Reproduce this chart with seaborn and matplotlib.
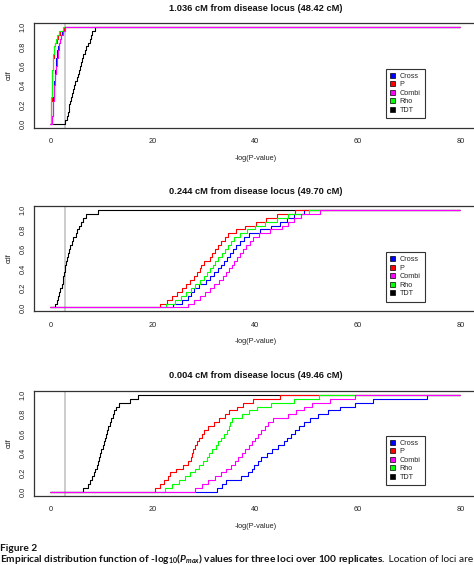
import numpy as np
import pandas as pd
import matplotlib
matplotlib.use("Agg")
import matplotlib.pyplot as plt
import seaborn as sns
from matplotlib.patches import Patch

# ---------------- data ----------------
SERIES = ["Cross", "P", "Combi", "Rho", "TDT"]
DRAW_ORDER = ["TDT", "Cross", "P", "Rho", "Combi"]
COLORS = {"Cross": "#0000FF", "P": "#FF0000", "Combi": "#FF00FF",
          "Rho": "#00FF00", "TDT": "#000000"}
TITLES = ["1.036 cM from disease locus (48.42 cM)",
          "0.244 cM from disease locus (49.70 cM)",
          "0.004 cM from disease locus (49.46 cM)"]
XTICKS = [0, 20, 40, 60, 80]
YTICKS = [0.0, 0.2, 0.4, 0.6, 0.8, 1.0]
THRESHOLD = 2.9
X_START, X_END = 0, 80

# panel 1 : sorted -log(P) values per statistic
p1_cross = [0.3, 0.38, 0.43, 0.48, 0.52, 0.56, 0.6, 0.65, 0.7, 0.74, 0.78, 0.82,
            0.87, 0.92, 1.0, 1.08, 1.17, 1.27, 1.37, 1.5, 1.65, 1.8, 2.0, 2.3, 2.7]
p1_p = [0.05, 0.1, 0.12, 0.15, 0.18, 0.2, 0.22, 0.25, 0.28, 0.3, 0.32, 0.35,
        0.38, 0.41, 0.45, 0.5, 0.55, 0.62, 0.7, 0.8, 0.95, 1.2, 1.5, 1.9, 2.7]
p1_combi = [0.3, 0.4, 0.45, 0.5, 0.55, 0.6, 0.65, 0.7, 0.75, 0.8, 0.85, 0.9,
            0.95, 1.0, 1.1, 1.2, 1.3, 1.4, 1.5, 1.6, 1.75, 1.9, 2.1, 2.4, 2.8]
p1_rho = [0.04, 0.08, 0.1, 0.13, 0.15, 0.18, 0.2, 0.22, 0.25, 0.28, 0.3, 0.33,
          0.36, 0.4, 0.44, 0.48, 0.53, 0.6, 0.68, 0.76, 0.88, 1.05, 1.3, 1.7, 2.5]
p1_tdt = [2.8, 3.2, 3.4, 3.6, 3.7, 3.8, 4.0, 4.2, 4.4, 4.6, 4.8, 5.1, 5.3, 5.5,
          5.7, 5.9, 6.1, 6.4, 6.7, 7.0, 7.4, 7.7, 8.0, 8.2, 8.8]

# panel 2
p2_cross = [24.0, 25.7, 26.8, 27.5, 28.0, 29.0, 30.3, 31.2, 31.9, 32.7, 33.3, 33.9,
            34.5, 35.0, 35.6, 36.3, 37.0, 37.7, 38.8, 41.0, 43.0, 44.8, 46.1, 47.6, 49.5]
p2_p = [21.3, 22.8, 23.8, 24.8, 25.6, 26.4, 27.3, 28.0, 28.6, 29.1, 29.4, 30.0,
        31.1, 31.6, 32.2, 32.8, 33.3, 34.0, 34.7, 36.3, 38.0, 40.2, 42.1, 44.2, 47.8]
p2_combi = [26.8, 28.0, 29.2, 30.2, 31.1, 32.0, 32.9, 33.6, 34.3, 34.9, 35.5, 35.9,
            36.4, 37.0, 37.6, 38.2, 38.9, 39.6, 40.7, 42.8, 45.2, 46.4, 47.6, 49.0, 52.7]
p2_rho = [22.5, 24.3, 25.5, 26.5, 27.4, 28.3, 29.2, 30.0, 30.5, 31.1, 31.7, 32.2,
          32.8, 33.5, 34.1, 34.7, 35.3, 35.8, 37.0, 38.4, 40.0, 41.8, 44.2, 46.3, 50.5]
p2_tdt = [0.9, 1.3, 1.5, 1.7, 1.9, 2.2, 2.4, 2.5, 2.7, 2.8, 2.9, 3.1, 3.3, 3.5,
          3.7, 3.9, 4.2, 4.5, 4.9, 5.2, 5.5, 5.9, 6.3, 7.0, 9.3]

# panel 3
p3_cross = [32.5, 33.4, 34.2, 37.2, 38.5, 39.3, 39.8, 40.5, 41.2, 42.3, 43.3, 44.4,
            45.5, 46.2, 47.0, 47.8, 48.5, 49.5, 50.6, 52.3, 54.2, 56.5, 59.5, 63.0, 73.5]
p3_p = [20.5, 21.3, 22.2, 22.9, 23.4, 24.6, 25.8, 26.8, 27.4, 27.7, 27.9, 28.2,
        28.6, 29.0, 29.6, 30.0, 30.8, 32.0, 33.0, 34.1, 34.8, 36.5, 37.6, 39.6, 44.9]
p3_combi = [28.3, 29.5, 30.8, 32.1, 33.2, 34.3, 35.2, 36.0, 36.7, 37.3, 38.0, 38.7,
            39.3, 39.9, 40.5, 41.2, 41.8, 42.5, 43.5, 46.3, 48.0, 49.5, 51.0, 54.5, 59.5]
p3_rho = [22.3, 23.8, 25.1, 26.2, 27.2, 28.2, 29.0, 29.8, 30.5, 31.0, 31.6, 32.3,
          32.8, 33.3, 33.8, 34.4, 34.9, 35.1, 35.4, 37.3, 38.8, 40.3, 43.0, 47.5, 52.5]
p3_tdt = [6.4, 7.3, 7.8, 8.2, 8.5, 8.7, 9.0, 9.2, 9.5, 9.7, 9.9, 10.2, 10.4, 10.6,
          10.8, 11.1, 11.3, 11.6, 11.9, 12.2, 12.5, 12.8, 13.4, 15.5, 17.0]

PANELS = [
    {"Cross": p1_cross, "P": p1_p, "Combi": p1_combi, "Rho": p1_rho, "TDT": p1_tdt},
    {"Cross": p2_cross, "P": p2_p, "Combi": p2_combi, "Rho": p2_rho, "TDT": p2_tdt},
    {"Cross": p3_cross, "P": p3_p, "Combi": p3_combi, "Rho": p3_rho, "TDT": p3_tdt},
]

CAPTION_HEAD = "Figure 2"
CAPTION_BOLD = r"Empirical distribution function of -log$_{10}$($P_{max}$) values for three loci over 100 replicates."
CAPTION_REST = " Location of loci are in cM."


def ecdf_frame(panel):
    rows = []
    for name in DRAW_ORDER:
        vals = np.sort(np.asarray(panel[name], dtype=float))
        n = len(vals)
        xs = np.concatenate([[X_START], vals, [X_END]])
        ys = np.concatenate([[0.0], np.arange(1, n + 1) / n, [1.0]])
        for i, (xv, yv) in enumerate(zip(xs, ys)):
            rows.append({"x": xv, "cdf": yv, "series": name, "order": i})
    return pd.DataFrame(rows)


# ---------------- figure ----------------
sns.set_theme(style="white")
plt.rcParams["font.family"] = ["Liberation Sans", "DejaVu Sans"]
plt.rcParams["mathtext.fontset"] = "custom"
plt.rcParams["mathtext.rm"] = "Lato:bold"
plt.rcParams["mathtext.it"] = "Lato:italic:bold"

W, H = 474, 565
fig = plt.figure(figsize=(W / 100, H / 100), dpi=100)
fig.patch.set_facecolor("white")

left_px, right_px = 34, 476.7
boxes = [(23.3, 127.7), (206.0, 311.3), (391.0, 495.7)]
legend_bottom = [0.09, 0.091, 0.10]

for k, (top_px, bot_px) in enumerate(boxes):
    ax = fig.add_axes([left_px / W, 1 - bot_px / H,
                       (right_px - left_px) / W, (bot_px - top_px) / H])
    ax.set_facecolor("white")
    df = ecdf_frame(PANELS[k])
    ax.axvline(THRESHOLD, color="#c8c8c8", lw=1.3, zorder=1)
    sns.lineplot(data=df, x="x", y="cdf", hue="series", hue_order=DRAW_ORDER,
                 palette=COLORS, estimator=None, sort=False, units="series",
                 drawstyle="steps-post", lw=0.8, legend=False, ax=ax, zorder=2)
    ax.set_xlim(-3.2, 83.2)
    ax.set_ylim(-0.04, 1.04)
    ax.set_xticks(XTICKS, labels=[str(v) for v in XTICKS])
    ax.set_yticks(YTICKS, labels=[f"{v:.1f}" for v in YTICKS])
    ax.tick_params(axis="both", which="major", direction="out", length=3,
                   width=0.6, color="#333333", labelsize=5.3, labelcolor="#222222")
    ax.tick_params(axis="x", pad=4.5)
    ax.tick_params(axis="y", pad=2.5)
    for lab in ax.get_yticklabels():
        lab.set_rotation(90)
        lab.set_va("center")
    for sp in ax.spines.values():
        sp.set_visible(True)
        sp.set_color("#333333")
        sp.set_linewidth(0.9)
    ax.set_xlabel("-log(P-value)", fontsize=5.3, labelpad=7, color="#222222")
    ax.set_ylabel("cdf", fontsize=5.3, labelpad=4.5, color="#222222")
    ax.set_title(TITLES[k], fontsize=6.7, fontweight="bold", pad=9, color="#111111")

    handles = [Patch(facecolor=COLORS[s], edgecolor="black", lw=0.5, label=s)
               for s in SERIES]
    leg = ax.legend(handles=handles, loc="lower right",
                    bbox_to_anchor=(0.883, legend_bottom[k]),
                    bbox_transform=ax.transAxes, fontsize=5.2, frameon=True,
                    fancybox=False, framealpha=1, edgecolor="#333333",
                    borderaxespad=0, borderpad=0.6, labelspacing=0.2,
                    handlelength=0.7, handleheight=0.7, handletextpad=0.6)
    leg.get_frame().set_linewidth(0.8)

fig.text(0.0, 1 - 551 / H, CAPTION_HEAD, fontfamily="Lato", fontweight="bold",
         fontsize=7.3, va="baseline", ha="left", color="#111111")
t1 = fig.text(0.0, 1 - 562.5 / H, CAPTION_BOLD, fontfamily="Lato", fontweight="bold",
              fontsize=7.3, va="baseline", ha="left", color="#111111")
fig.canvas.draw()
bb = t1.get_window_extent()
fig.text(bb.x1 / W, 1 - 562.5 / H, CAPTION_REST, fontfamily="Lato",
         fontsize=7.3, va="baseline", ha="left", color="#111111")

fig.savefig("out.png", dpi=100)
